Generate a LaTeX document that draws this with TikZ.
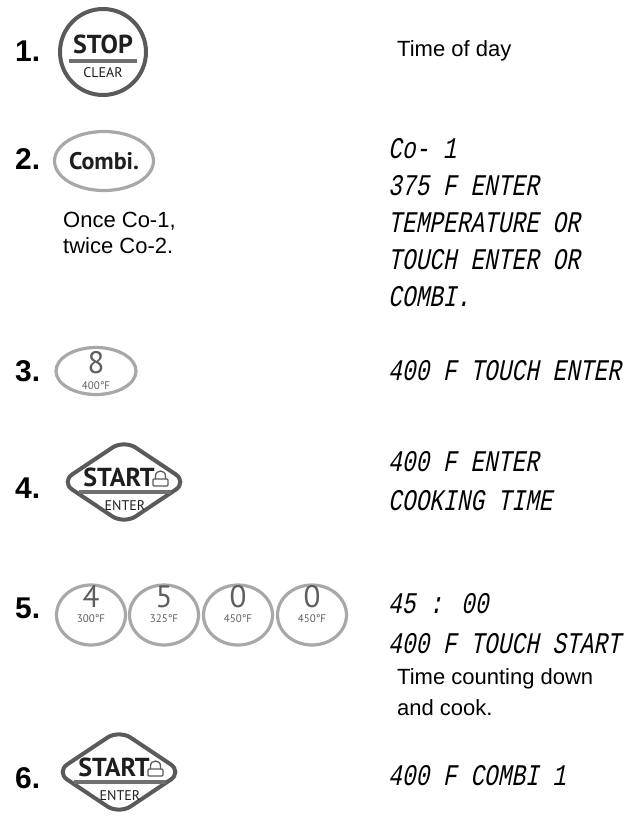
\documentclass[tikz,border=0pt]{standalone}
\usepackage{fontspec}
\setmainfont{Liberation Sans}
\newfontfamily\keyfont{PT Sans}
\newfontfamily\lcdfont{Liberation Mono}[FakeSlant=0.2,FakeStretch=0.76]
\usetikzlibrary{shapes.geometric}
\definecolor{btndark}{HTML}{5A5A5A}
\definecolor{btnlight}{HTML}{A8A8A8}
\definecolor{barcol}{HTML}{707070}
\definecolor{digitcol}{HTML}{5E5E5E}
\definecolor{inkcol}{HTML}{1E1E1E}
\tikzset{
 stepnum/.style={anchor=base west, inner sep=0pt, font=\fontsize{30}{32}\selectfont\bfseries},
 bodytext/.style={anchor=base west, inner sep=0pt, font=\fontsize{22}{26}\selectfont},
 lcdtext/.style={anchor=base west, inner sep=0pt, font=\lcdfont\fontsize{30}{32}\selectfont},
 darkkey/.style={draw=btndark, line width=4pt},
 lightkey/.style={draw=btnlight, line width=3.2pt},
 keybig/.style={inner sep=0pt, text=inkcol, font=\keyfont\bfseries\fontsize{26}{28}\selectfont},
 keysmall/.style={inner sep=0pt, text=inkcol, font=\keyfont\fontsize{14}{16}\selectfont},
 keybar/.style={draw=barcol, line width=3.5pt},
 lockline/.style={draw=btndark, line width=1.3pt},
 digit/.style={inner sep=0pt, text=digitcol, font=\keyfont\fontsize{31}{33}\selectfont},
 templabel/.style={inner sep=0pt, text=digitcol, font=\keyfont\fontsize{11}{12}\selectfont},
 numkey/.style={ellipse, lightkey, minimum width=69pt, minimum height=60pt, inner sep=0pt},
 startdia/.style={diamond, darkkey, minimum width=128pt, minimum height=86pt, aspect=1.47, rounded corners=14pt, inner sep=0pt},
}
\newcommand\startkey[3]{%
 \begin{scope}[shift={(#2,#3)}]
  \node[startdia] (#1) at (0,0) {};
  \node[keybig] (#1-start) at (-5,-5) {START};
  \draw[lockline, rounded corners=1pt] (29,-3) rectangle (44,4);
  \draw[lockline] (31.5,-3) -- (31.5,-6) .. controls (31.5,-12.6) and (41.5,-12.6) .. (41.5,-6) -- (41.5,-3);
  \draw[keybar] (-45,10) -- (47,10);
  \node[keysmall] (#1-enter) at (1,24) {ENTER};
 \end{scope}}
\newcommand\numkeyat[5]{%
 \node[numkey] (#1) at (#2,#3) {};
 \node[digit] (#1-d) at (#2,#3-18.5) {#4};
 \node[templabel] (#1-t) at (#2,#3+4) {#5};}
\begin{document}
\begin{tikzpicture}[x=1pt,y=-1pt]
\useasboundingbox (0,0) rectangle (644,819);
% step 1
\node[stepnum] (n1) at (15,61) {1.};
\node[circle, darkkey, minimum size=86pt, inner sep=0pt] (k1) at (103,52) {};
\node[keybig] (k1-top) at (103,44) {STOP};
\draw[keybar] (69,61) -- (137,61);
\node[keysmall] (k1-bot) at (103,73) {CLEAR};
\node[bodytext] (d1) at (397,56) {Time of day};
% step 2
\node[stepnum] (n2) at (15,169) {2.};
\node[ellipse, lightkey, minimum width=93pt, minimum height=59pt, keybig, font=\keyfont\bfseries\fontsize{24}{26}\selectfont] (k2) at (104,161) {Combi.};
\node[bodytext] (c2a) at (63,227) {Once Co-1,};
\node[bodytext] (c2b) at (63,253) {twice Co-2.};
\node[lcdtext] (d2a) at (388,158) {Co- 1};
\node[lcdtext] (d2b) at (388,195) {375 F ENTER};
\node[lcdtext] (d2c) at (388,232) {TEMPERATURE OR};
\node[lcdtext] (d2d) at (388,269) {TOUCH ENTER OR};
\node[lcdtext] (d2e) at (388,306) {COMBI.};
% step 3
\node[stepnum] (n3) at (15,381) {3.};
\node[ellipse, lightkey, minimum width=80pt, minimum height=47pt, inner sep=0pt] (k3) at (96,371) {};
\node[digit] (k3-d) at (96,363) {8};
\node[templabel] (k3-t) at (96,386) {400°F};
\node[lcdtext] (d3) at (388,380) {400 F TOUCH ENTER};
% step 4
\node[stepnum] (n4) at (15,498) {4.};
\startkey{k4}{124}{482}
\node[lcdtext] (d4a) at (388,471) {400 F ENTER};
\node[lcdtext] (d4b) at (388,510) {COOKING TIME};
% step 5
\node[stepnum] (n5) at (15,618) {5.};
\numkeyat{k5a}{91}{615}{4}{300°F}
\numkeyat{k5b}{164}{615}{5}{325°F}
\numkeyat{k5c}{238}{615}{0}{450°F}
\numkeyat{k5d}{312}{615}{0}{450°F}
\node[lcdtext] (d5a) at (388,613) {45 : 00};
\node[lcdtext] (d5b) at (388,653) {400 F TOUCH START};
\node[bodytext] (c5a) at (397,684) {Time counting down};
\node[bodytext] (c5b) at (397,715) {and cook.};
% step 6
\node[stepnum] (n6) at (15,788) {6.};
\startkey{k6}{119}{772}
\node[lcdtext] (d6) at (388,785) {400 F COMBI 1};
\end{tikzpicture}
\end{document}
